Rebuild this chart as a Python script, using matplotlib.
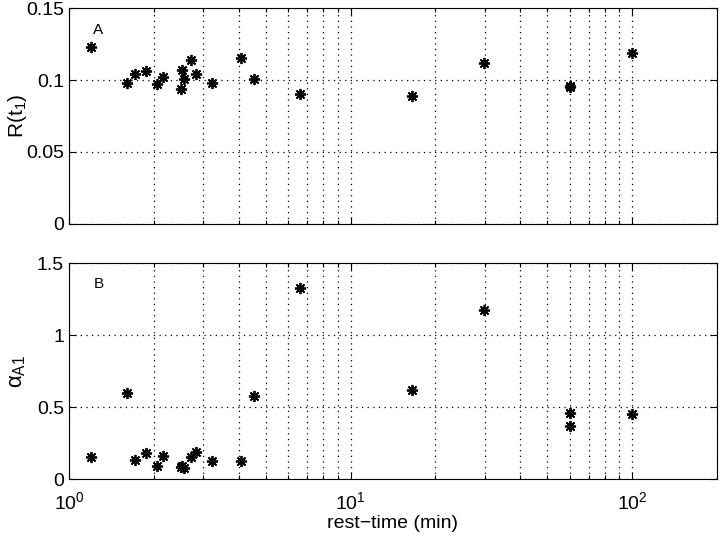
import matplotlib
matplotlib.use("Agg")
import matplotlib.pyplot as plt
from matplotlib.ticker import LogLocator, NullFormatter, FixedLocator

# rest times (min), shared by both panels
rest_time = [1.20, 1.61, 1.71, 1.87, 2.06, 2.16, 2.51, 2.50, 2.56, 2.71,
             2.82, 3.21, 4.08, 4.54, 6.59, 16.5, 29.7, 60.0, 60.0, 100.0]
# panel A: R(t1)
r_t1 = [0.123, 0.098, 0.104, 0.106, 0.097, 0.102, 0.107, 0.094, 0.101, 0.114,
        0.104, 0.098, 0.115, 0.101, 0.090, 0.089, 0.112, 0.095, 0.096, 0.119]
# panel B: alpha_A1
alpha_a1 = [0.155, 0.597, 0.134, 0.180, 0.090, 0.157, 0.092, 0.085, 0.076, 0.155,
            0.190, 0.127, 0.127, 0.580, 1.324, 0.620, 1.176, 0.460, 0.365, 0.450]

plt.rcParams['font.family'] = ['Liberation Sans', 'DejaVu Sans']
plt.rcParams['mathtext.fontset'] = 'custom'
plt.rcParams['mathtext.rm'] = 'Liberation Sans'
plt.rcParams['mathtext.it'] = 'Liberation Sans'

fig = plt.figure(figsize=(7.2, 5.37), dpi=100)
ax1 = fig.add_axes([0.0958, 0.583, 0.900, 0.402])
ax2 = fig.add_axes([0.0958, 0.108, 0.900, 0.402])

asterisk = (8, 2, 0)
dots = (0, (1, 3.5))


def style_axis(ax, yticks, ylim):
    ax.set_xscale('log')
    ax.set_xlim(1, 200)
    ax.set_ylim(*ylim)
    ax.yaxis.set_major_locator(FixedLocator(yticks))
    ax.xaxis.set_major_locator(LogLocator(base=10, numticks=10))
    ax.xaxis.set_minor_locator(LogLocator(base=10, subs=range(2, 10), numticks=20))
    ax.xaxis.set_minor_formatter(NullFormatter())
    ax.tick_params(which='both', direction='in', top=True, right=True,
                   labelsize=14, width=0.8)
    ax.tick_params(which='major', length=5)
    ax.tick_params(which='minor', length=3)
    ax.tick_params(axis='x', pad=9)
    ax.grid(True, which='both', axis='x', linestyle=dots, color='black', linewidth=0.9)
    ax.grid(True, which='major', axis='y', linestyle=dots, color='black', linewidth=0.9)
    for s in ax.spines.values():
        s.set_linewidth(0.8)


ax1.plot(rest_time, r_t1, linestyle='none', marker=asterisk, color='black',
         markersize=8, markeredgewidth=1.3)
style_axis(ax1, [0, 0.05, 0.1, 0.15], (0, 0.15))
ax1.set_yticklabels(['0', '0.05', '0.1', '0.15'])
ax1.tick_params(axis='x', labelbottom=False)
ax1.set_ylabel('R(t$_1$)', fontsize=15)
ax1.yaxis.set_label_coords(-0.061, 0.5)
ax1.text(1.22, 0.132, 'A', fontsize=11)

ax2.plot(rest_time, alpha_a1, linestyle='none', marker=asterisk, color='black',
         markersize=8, markeredgewidth=1.3)
style_axis(ax2, [0, 0.5, 1, 1.5], (0, 1.5))
ax2.set_yticklabels(['0', '0.5', '1', '1.5'])
ax2.set_ylabel(r'$\alpha_{\mathrm{A1}}$', fontsize=16)
ax2.yaxis.set_label_coords(-0.064, 0.5)
ax2.set_xlabel('rest\u2212time (min)', fontsize=14, labelpad=1)
ax2.text(1.22, 1.33, 'B', fontsize=11)

fig.savefig('out.png', dpi=100)
